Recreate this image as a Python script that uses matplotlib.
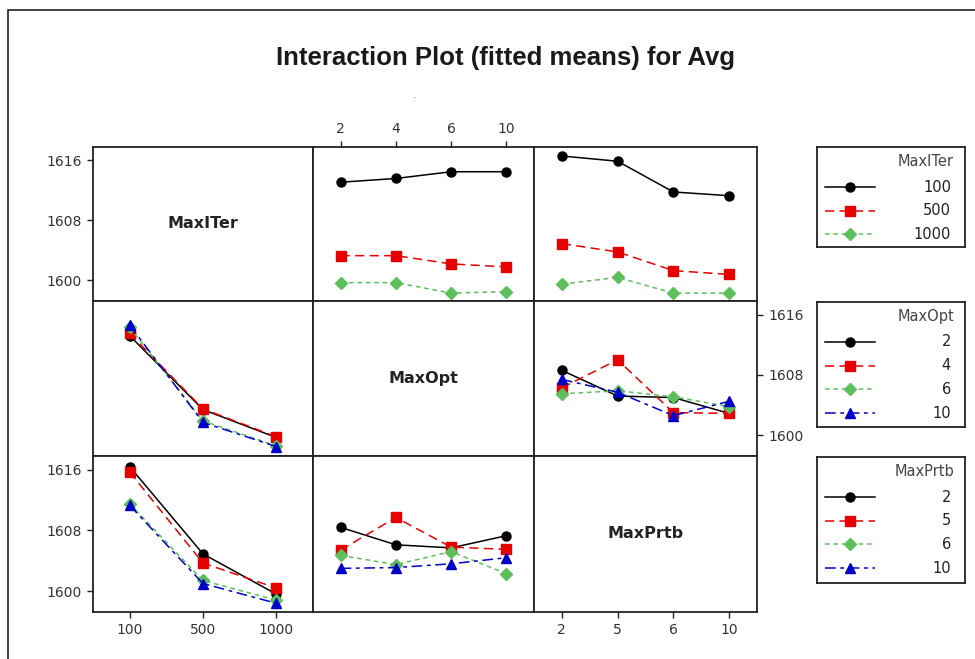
"""Interaction plot (fitted means) for Avg - matrix layout."""
import matplotlib
matplotlib.use("Agg")
import matplotlib.pyplot as plt
from matplotlib.patches import Rectangle

# %%
# data
factors = ["MaxITer", "MaxOpt", "MaxPrtb"]
maxiter_lv = ["100", "500", "1000"]
maxopt_lv = ["2", "4", "6", "10"]
maxprtb_lv = ["2", "5", "6", "10"]
levels = {"MaxITer": maxiter_lv, "MaxOpt": maxopt_lv, "MaxPrtb": maxprtb_lv}

# row factor (lines) vs column factor (x)
iter_vs_opt = {"100": [1613.1, 1613.6, 1614.5, 1614.5],
               "500": [1603.3, 1603.3, 1602.2, 1601.8],
               "1000": [1599.7, 1599.7, 1598.3, 1598.5]}
iter_vs_prtb = {"100": [1616.6, 1615.9, 1611.8, 1611.3],
                "500": [1604.9, 1603.8, 1601.3, 1600.8],
                "1000": [1599.5, 1600.4, 1598.3, 1598.3]}
opt_vs_iter = {"2": [1613.2, 1603.4, 1599.7],
               "4": [1613.5, 1603.5, 1599.8],
               "6": [1614.3, 1601.9, 1598.6],
               "10": [1614.6, 1601.7, 1598.5]}
opt_vs_prtb = {"2": [1608.6, 1605.2, 1605.0, 1602.9],
               "4": [1606.3, 1610.0, 1603.0, 1602.9],
               "6": [1605.5, 1605.9, 1605.1, 1603.8],
               "10": [1607.4, 1605.7, 1602.6, 1604.5]}
prtb_vs_iter = {"2": [1616.4, 1604.9, 1599.6],
                "5": [1615.7, 1603.7, 1600.4],
                "6": [1611.5, 1601.4, 1598.8],
                "10": [1611.3, 1601.0, 1598.4]}
prtb_vs_opt = {"2": [1608.4, 1606.1, 1605.7, 1607.3],
               "5": [1605.4, 1609.7, 1605.8, 1605.5],
               "6": [1604.7, 1603.5, 1605.2, 1602.3],
               "10": [1603.0, 1603.1, 1603.6, 1604.4]}
cells = {(0, 1): iter_vs_opt, (0, 2): iter_vs_prtb,
         (1, 0): opt_vs_iter, (1, 2): opt_vs_prtb,
         (2, 0): prtb_vs_iter, (2, 1): prtb_vs_opt}
yticks = [1600, 1608, 1616]

# %%
# styles
styles = [dict(color="black", marker="o", ms=6.5, ls="-"),
          dict(color="#e60000", marker="s", ms=6.5, dashes=(6, 3.5)),
          dict(color="#5cbf5c", marker="D", ms=6, dashes=(3, 2.5)),
          dict(color="#0000c8", marker="^", ms=7, dashes=(7, 3, 2.5, 3))]
tick_col = "#333333"
W, H = 975, 659
fig = plt.figure(figsize=(W / 100, H / 100), dpi=100)
plt.rcParams["font.family"] = ["DejaVu Sans"]


def px_axes(x0, y0, x1, y1):
    return fig.add_axes([x0 / W, 1 - y1 / H, (x1 - x0) / W, (y1 - y0) / H])


# outer frame
fig.patches.append(Rectangle((8 / W, -0.1), 1.2, 1 - 10 / H + 0.1,
                             transform=fig.transFigure, fill=False,
                             lw=1.2, ec="#222222"))

fig.text(506 / W, 1 - 58 / H, "Interaction Plot (fitted means) for Avg",
         ha="center", va="center", fontsize=18.5, fontweight="bold",
         color="#1a1a1a",
         family=["Liberation Sans Narrow", "Liberation Sans", "DejaVu Sans"])
fig.text(415 / W, 1 - 97 / H, "-", ha="center", va="center", fontsize=5,
         color="#888888")

cols = [(93, 313), (313, 534), (534, 757)]
rows = [(147, 301), (301, 456), (456, 612)]

for i in range(3):
    for j in range(3):
        ax = px_axes(cols[j][0], rows[i][0], cols[j][1], rows[i][1])
        nx = len(levels[factors[j]])
        ax.set_xlim(-0.5, nx - 0.5)
        ax.set_ylim(1597.25, 1617.8)
        for s in ax.spines.values():
            s.set_linewidth(1.3)
            s.set_color("#222222")
        ax.tick_params(length=4.5, width=1, colors="#222222",
                       labelcolor=tick_col, labelsize=10, direction="out")
        ax.set_xticks([])
        ax.set_yticks([])
        if i == j:
            ax.text(0.5, 0.5, factors[i], transform=ax.transAxes,
                    ha="center", va="center", fontsize=11.5,
                    fontweight="bold", color="#222222")
        else:
            data = cells[(i, j)]
            for k, lv in enumerate(levels[factors[i]]):
                st = styles[k]
                ax.plot(range(nx), data[lv], lw=1.1, mec=st["color"],
                        **st)
        # axis labelling like Minitab matrix
        if j == 0 and i in (0, 2):
            ax.set_yticks(yticks)
            ax.set_yticklabels([str(v) for v in yticks])
        if j == 2 and i == 1:
            ax.yaxis.tick_right()
            ax.set_yticks(yticks)
            ax.set_yticklabels([str(v) for v in yticks])
        if i == 0 and j == 1:
            ax.xaxis.tick_top()
            ax.set_xticks(range(nx))
            ax.set_xticklabels(levels[factors[j]])
        if i == 2 and j in (0, 2):
            ax.set_xticks(range(nx))
            ax.set_xticklabels(levels[factors[j]])

# %%
# legends, one per row factor
legend_boxes = [(147, 247), (302, 427), (457, 583)]
for (y0, y1), fac in zip(legend_boxes, factors):
    lax = px_axes(817, y0, 965, y1)
    lax.set_xlim(0, 148)
    lax.set_ylim(y1 - y0, 0)
    lax.set_xticks([])
    lax.set_yticks([])
    for s in lax.spines.values():
        s.set_linewidth(1.3)
        s.set_color("#222222")
    lax.text(137, 15, fac, ha="right", va="center", fontsize=10.5,
             color="#444444")
    for k, lv in enumerate(levels[fac]):
        yy = 40 + k * 23.7
        st = styles[k]
        lax.plot([8, 58], [yy, yy], lw=1.1, **{**st, "marker": None})
        lax.plot([33], [yy], ls="none", marker=st["marker"], ms=st["ms"],
                 color=st["color"])
        lax.text(134, yy, lv, ha="right", va="center", fontsize=10.5,
                 color="#222222")

fig.savefig("out.png", dpi=100)
